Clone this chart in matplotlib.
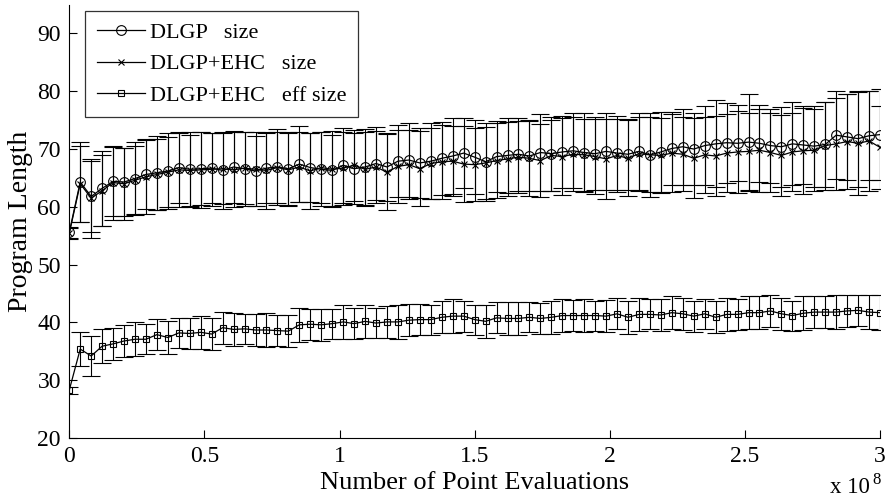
#!/usr/bin/env python3
"""Program length vs. number of point evaluations for DLGP and DLGP+EHC."""

import numpy as np
import matplotlib
matplotlib.use('Agg')
import matplotlib.pyplot as plt

plt.rcParams['font.family'] = ['Liberation Serif', 'DejaVu Serif']

# Evaluations between consecutive samples (75 samples spanning 0..3e8)
EVALS_PER_SAMPLE = 3e8 / 74
N_SAMPLES = 75

dlgp_size = [
    55.6, 64.3, 61.8, 63.2, 64.4, 64.3, 64.9, 65.6, 65.9, 66.2,
    66.8, 66.5, 66.6, 66.7, 66.3, 66.9, 66.6, 66.2, 66.7, 66.9,
    66.6, 67.4, 66.8, 66.5, 66.3, 67.2, 66.6, 66.9, 67.5, 66.9,
    67.9, 68.1, 67.6, 67.9, 68.4, 68.8, 69.3, 68.6, 67.8, 68.7,
    68.9, 69.1, 68.8, 69.4, 69.2, 69.5, 69.7, 69.4, 69.2, 69.6,
    69.3, 69.1, 69.6, 69.0, 69.5, 70.1, 70.4, 70.0, 70.6, 70.9,
    71.1, 71.0, 71.2, 71.0, 70.6, 70.4, 70.9, 70.7, 70.5, 70.8,
    72.4, 72.1, 71.8, 72.3, 72.5,
]
dlgp_size_std = [
    1.0, 7.0, 6.2, 6.5, 6.0, 5.8, 6.3, 5.9, 6.4, 6.6,
    6.1, 6.5, 6.3, 6.0, 6.7, 6.2, 6.4, 6.1, 6.0, 6.5,
    6.3, 6.6, 6.0, 6.4, 6.2, 6.5, 6.1, 6.6, 6.3, 5.9,
    6.2, 6.4, 6.1, 6.6, 6.3, 6.5, 6.0, 6.4, 6.7, 6.2,
    6.5, 6.3, 6.0, 6.6, 6.4, 6.2, 6.5, 6.8, 6.3, 6.6,
    6.4, 6.1, 6.7, 6.5, 6.9, 6.3, 6.6, 6.2, 6.8, 7.5,
    6.9, 6.6, 8.4, 6.7, 6.4, 6.9, 7.2, 6.8, 7.0, 7.3,
    7.6, 7.4, 8.3, 7.7, 7.9,
]

ehc_size = [
    55.4, 64.0, 61.5, 62.8, 64.2, 64.0, 64.6, 65.2, 65.6, 66.0,
    66.4, 66.3, 66.4, 66.5, 66.6, 66.4, 66.7, 66.5, 66.3, 66.8,
    66.4, 66.9, 66.2, 66.8, 66.5, 66.7, 67.2, 66.5, 66.9, 66.0,
    67.0, 67.3, 66.6, 67.5, 67.8, 67.9, 67.4, 67.3, 67.6, 68.0,
    68.3, 68.6, 68.4, 68.0, 68.9, 68.7, 69.1, 69.0, 68.7, 68.3,
    68.9, 68.4, 69.2, 69.0, 68.9, 69.3, 69.1, 68.4, 69.0, 68.8,
    69.3, 69.5, 69.6, 69.8, 69.4, 68.9, 69.5, 69.7, 69.8, 70.6,
    70.9, 71.3, 71.0, 71.4, 70.3,
]
ehc_size_std = [
    0.9, 6.6, 6.8, 6.1, 6.4, 6.2, 5.9, 6.5, 6.2, 6.0,
    6.4, 6.2, 6.6, 6.3, 6.1, 6.5, 6.2, 6.4, 6.7, 6.1,
    6.3, 6.0, 6.5, 6.2, 6.6, 6.3, 6.1, 6.4, 6.2, 6.6,
    6.3, 6.0, 6.5, 6.2, 6.4, 6.1, 6.6, 6.3, 6.2, 6.5,
    6.4, 6.2, 6.6, 6.3, 6.1, 6.7, 6.4, 6.2, 6.5, 6.9,
    6.3, 6.6, 6.4, 7.3, 6.5, 6.7, 6.4, 6.9, 6.6, 7.0,
    6.8, 7.1, 6.7, 7.2, 6.9, 7.0, 6.8, 7.4, 7.1, 7.6,
    7.9, 8.2, 8.9, 8.6, 7.2,
]

ehc_eff_size = [
    28.3, 35.4, 34.2, 35.9, 36.3, 36.8, 37.1, 37.1, 37.9, 37.4,
    38.2, 38.1, 38.3, 38.0, 39.1, 38.8, 38.9, 38.7, 38.7, 38.6,
    38.5, 39.6, 39.7, 39.6, 39.8, 40.1, 39.8, 40.2, 39.9, 40.1,
    40.1, 40.4, 40.5, 40.5, 40.9, 41.1, 41.1, 40.5, 40.2, 40.8,
    40.7, 40.7, 40.9, 40.7, 40.9, 41.2, 41.2, 41.2, 41.2, 41.1,
    41.5, 40.9, 41.4, 41.4, 41.3, 41.7, 41.5, 41.1, 41.5, 40.9,
    41.4, 41.4, 41.7, 41.7, 42.0, 41.5, 41.2, 41.6, 41.8, 41.8,
    41.8, 42.0, 42.1, 41.8, 41.7,
]
ehc_eff_size_std = [
    0.6, 3.0, 3.4, 2.9, 2.8, 2.7, 2.9, 2.6, 2.7, 2.8,
    2.6, 2.7, 2.9, 2.7, 2.8, 2.9, 2.6, 2.8, 2.9, 2.7,
    2.8, 2.9, 2.7, 2.8, 2.6, 2.9, 2.7, 2.8, 2.6, 2.7,
    2.9, 2.8, 2.7, 2.6, 2.8, 2.9, 2.7, 2.6, 2.8, 2.7,
    2.9, 2.8, 2.6, 2.7, 2.9, 2.8, 2.7, 2.9, 2.6, 2.8,
    2.7, 2.9, 2.8, 2.6, 2.7, 2.9, 2.8, 2.7, 2.6, 2.8,
    2.9, 2.7, 2.8, 2.9, 2.7, 2.8, 2.6, 2.9, 2.8, 2.7,
    2.9, 2.8, 2.7, 2.9, 3.0,
]

x_ticks = [0, 0.5e8, 1e8, 1.5e8, 2e8, 2.5e8, 3e8]
x_tick_labels = ['0', '0.5', '1', '1.5', '2', '2.5', '3']
y_ticks = [20, 30, 40, 50, 60, 70, 80, 90]

evals = np.arange(N_SAMPLES) * EVALS_PER_SAMPLE

fig = plt.figure(figsize=(8.88, 5.03), dpi=100)
ax = fig.add_axes([0.078, 0.129, 0.913, 0.862])

series = [
    (dlgp_size, dlgp_size_std, 'o', 7, 'DLGP   size'),
    (ehc_size, ehc_size_std, 'x', 5, 'DLGP+EHC   size'),
    (ehc_eff_size, ehc_eff_size_std, 's', 5, 'DLGP+EHC   eff size'),
]
for mean, std, marker, ms, label in series:
    ax.errorbar(evals, mean, yerr=std, color='black', ecolor='black',
                elinewidth=0.8, capsize=6.5, capthick=0.8, linewidth=0.9,
                marker=marker, markersize=ms, markerfacecolor='none',
                markeredgecolor='black', markeredgewidth=0.8, label=label)

ax.set_xlim(0, 3e8)
ax.set_ylim(20, 95)
ax.set_xticks(x_ticks)
ax.set_xticklabels(x_tick_labels)
ax.set_yticks(y_ticks)
ax.tick_params(direction='in', length=6, width=0.8, labelsize=17,
               top=False, right=False, pad=6)
for side in ('top', 'right'):
    ax.spines[side].set_visible(False)
for side in ('left', 'bottom'):
    ax.spines[side].set_linewidth(0.8)

ax.set_xlabel('Number of Point Evaluations', fontsize=19, labelpad=3)
ax.set_ylabel('Program Length', fontsize=20, labelpad=3)

# MATLAB-style exponent under the right end of the x axis
fig.text(0.980, 0.010, 'x 10', fontsize=16.5, ha='right', va='bottom')
fig.text(0.982, 0.030, '8', fontsize=12, ha='left', va='bottom')

handles, labels = ax.get_legend_handles_labels()
handles = [h[0] for h in handles]
leg = ax.legend(handles, labels, loc='upper left',
                bbox_to_anchor=(0.02, 0.985), fontsize=16, frameon=True,
                fancybox=False, edgecolor='black', handlelength=2.2,
                handletextpad=0.2, borderpad=0.5, labelspacing=0.5,
                borderaxespad=0)
leg.get_frame().set_linewidth(0.9)

fig.savefig('out.png', dpi=100)
